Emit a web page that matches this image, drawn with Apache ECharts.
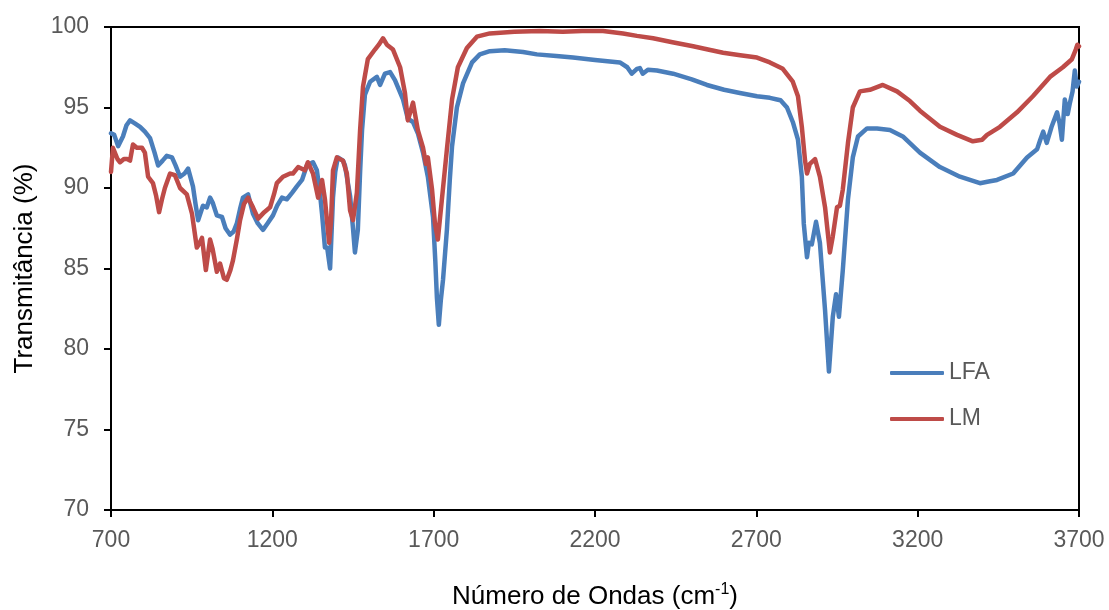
<!DOCTYPE html>
<html>
<head>
<meta charset="utf-8">
<script src="https://cdn.jsdelivr.net/npm/echarts@6/dist/echarts.min.js"></script>
<style>
html,body{margin:0;padding:0;background:#fff;}
#chart{width:1109px;height:610px;}
</style>
</head>
<body>
<div id="chart"></div>
<script>
const xTicks = [700, 1200, 1700, 2200, 2700, 3200, 3700];
const yTicks = [70, 75, 80, 85, 90, 95, 100];

const lfaWave = [700,702,710,722,737,748,759,775,790,805,821,835,846,860,873,889,900,914,928,939,954,962,970,985,997,1007,1015,1028,1044,1055,1069,1080,1090,1100,1109,1125,1140,1155,1171,1185,1202,1215,1230,1245,1261,1276,1292,1307,1326,1338,1347,1354,1363,1370,1379,1388,1395,1403,1419,1425,1441,1450,1456,1465,1472,1478,1487,1503,1524,1534,1549,1565,1580,1605,1620,1636,1651,1667,1682,1698,1705,1710,1716,1722,1729,1741,1750,1757,1772,1791,1819,1843,1874,1920,1977,2020,2080,2132,2200,2277,2300,2314,2330,2339,2348,2354,2364,2392,2442,2500,2547,2600,2649,2702,2742,2764,2775,2795,2813,2829,2841,2847,2857,2863,2872,2885,2897,2905,2913,2925,2937,2947,2956,2968,2984,2999,3015,3043,3074,3114,3154,3207,3269,3331,3393,3420,3446,3496,3539,3570,3580,3589,3600,3615,3632,3640,3647,3656,3665,3672,3680,3687,3693,3700];
const lfaT = [93.4,93.5,93.3,92.6,93.2,93.9,94.2,94.0,93.8,93.5,93.1,92.2,91.4,91.7,92.0,91.9,91.4,90.7,90.9,91.2,90.1,89.0,88.0,88.9,88.8,89.4,89.1,88.3,88.2,87.5,87.1,87.3,87.8,88.7,89.4,89.6,88.4,87.8,87.4,87.8,88.3,88.9,89.4,89.3,89.7,90.1,90.5,91.4,91.6,91.1,89.8,88.4,86.3,86.3,85.0,89.4,91.0,91.9,91.7,91.4,89.5,87.5,86.0,87.4,91.0,93.6,95.8,96.6,96.9,96.4,97.1,97.2,96.7,95.5,94.3,94.1,93.4,92.2,90.7,88.2,85.5,83.2,81.5,83.0,84.3,87.4,90.5,92.6,95.0,96.5,97.8,98.3,98.5,98.55,98.45,98.3,98.2,98.1,97.95,97.8,97.5,97.1,97.4,97.45,97.1,97.2,97.35,97.3,97.1,96.75,96.4,96.1,95.9,95.7,95.6,95.5,95.45,95.0,94.1,93.0,90.7,87.8,85.7,86.6,86.5,87.9,86.6,84.5,82.4,78.6,82.0,83.4,82.0,84.9,89.3,91.9,93.2,93.7,93.7,93.6,93.2,92.2,91.3,90.7,90.3,90.4,90.5,90.9,91.9,92.4,93.0,93.5,92.8,93.8,94.7,94.0,93.0,95.5,94.6,95.3,96.0,97.3,96.3,96.6];

const lmWave = [700,702,706,712,720,728,740,750,759,768,780,796,805,815,830,840,849,858,867,883,898,914,935,951,966,975,982,994,1007,1015,1028,1038,1050,1059,1070,1078,1090,1100,1112,1125,1140,1156,1175,1193,1205,1214,1233,1255,1264,1280,1301,1310,1326,1342,1354,1363,1376,1382,1388,1400,1419,1431,1441,1450,1462,1472,1481,1496,1518,1530,1543,1555,1574,1596,1611,1620,1636,1651,1667,1676,1682,1695,1704,1713,1726,1741,1757,1775,1803,1834,1874,1950,2029,2100,2160,2225,2287,2330,2380,2440,2504,2550,2597,2650,2702,2742,2782,2813,2829,2841,2851,2857,2866,2882,2897,2913,2928,2937,2950,2959,2968,2984,2999,3021,3052,3092,3136,3176,3207,3269,3322,3371,3400,3415,3455,3508,3557,3610,3650,3678,3690,3695,3700];
const lmT = [91.0,91.1,92.5,92.4,91.8,91.6,91.8,91.8,91.7,92.7,92.5,92.5,92.2,90.7,90.3,89.5,88.5,89.3,90.0,90.9,90.8,90.0,89.6,88.4,86.3,86.6,86.9,84.9,86.8,86.2,84.8,85.3,84.4,84.3,84.9,85.5,86.8,88.0,89.0,89.4,88.8,88.1,88.5,88.8,89.6,90.3,90.7,90.9,90.9,91.3,91.1,91.6,90.9,89.4,90.5,89.3,86.6,88.0,91.1,91.9,91.7,90.9,88.6,88.0,89.7,93.6,96.3,98.0,98.6,98.9,99.3,98.9,98.6,97.5,95.9,94.2,95.3,93.6,92.5,91.5,91.9,89.9,87.8,86.8,89.4,92.4,95.5,97.5,98.7,99.4,99.6,99.7,99.75,99.7,99.75,99.75,99.6,99.45,99.3,99.05,98.8,98.6,98.4,98.25,98.1,97.8,97.4,96.6,95.7,93.8,91.7,90.9,91.5,91.8,90.7,88.8,86.0,87.0,88.8,88.9,89.9,92.8,95.0,96.0,96.1,96.4,96.0,95.4,94.8,93.8,93.3,92.9,93.0,93.3,93.8,94.7,95.7,96.9,97.5,98.0,98.6,98.9,98.8];

const pairs = (xs, ys) => xs.map((x, i) => [x, ys[i]]);

const chart = echarts.init(document.getElementById('chart'));
const txt = '#595959';
const font = 'Liberation Sans, Arial, sans-serif';
chart.setOption({
  animation: false,
  backgroundColor: '#fff',
  textStyle: { fontFamily: font },
  grid: { left: 111, right: 30, top: 27, bottom: 100, show: true, borderColor: '#000', borderWidth: 2,
          backgroundColor: 'transparent', containLabel: false, outerBoundsMode: 'none' },
  legend: {
    orient: 'vertical',
    left: 885, top: 356,
    icon: 'roundRect',
    itemWidth: 54, itemHeight: 4, itemGap: 22,
    textStyle: { fontSize: 23, lineHeight: 24, color: txt, fontFamily: font },
    data: ['LFA', 'LM']
  },
  xAxis: {
    type: 'value', min: xTicks[0], max: xTicks[xTicks.length - 1], interval: 500,
    name: '{a|Número de Ondas (cm}{s|-1}{a|)}',
    nameLocation: 'middle', nameGap: 72,
    nameTextStyle: { rich: {
      a: { fontSize: 26, lineHeight: 30, color: '#000', fontFamily: font },
      s: { fontSize: 16, lineHeight: 30, color: '#000', fontFamily: font, verticalAlign: 'top', padding: [0, 0, 10, 0] } } },
    axisLine: { lineStyle: { color: '#000', width: 2 } },
    axisTick: { show: true, length: 7, lineStyle: { color: '#000', width: 2 } },
    axisLabel: { fontSize: 23, color: txt, margin: 19, formatter: v => String(v) },
    splitLine: { show: false }
  },
  yAxis: {
    type: 'value', min: yTicks[0], max: yTicks[yTicks.length - 1], interval: 5,
    name: 'Transmitância (%)', nameLocation: 'middle', nameGap: 73,
    nameTextStyle: { fontSize: 26, color: '#000', fontFamily: font },
    axisLine: { show: true, lineStyle: { color: '#000', width: 2 } },
    axisTick: { show: true, length: 7, lineStyle: { color: '#000', width: 2 } },
    axisLabel: { fontSize: 23, color: txt, margin: 22, formatter: v => String(v) },
    splitLine: { show: false }
  },
  series: [
    { name: 'LFA', type: 'line', data: pairs(lfaWave, lfaT), showSymbol: false, symbol: 'none',
      lineStyle: { color: '#4a7ebb', width: 4.5, cap: 'round', join: 'round' }, itemStyle: { color: '#4a7ebb' } },
    { name: 'LM', type: 'line', data: pairs(lmWave, lmT), showSymbol: false, symbol: 'none',
      lineStyle: { color: '#be4b48', width: 4.5, cap: 'round', join: 'round' }, itemStyle: { color: '#be4b48' } }
  ]
});
</script>
</body>
</html>
